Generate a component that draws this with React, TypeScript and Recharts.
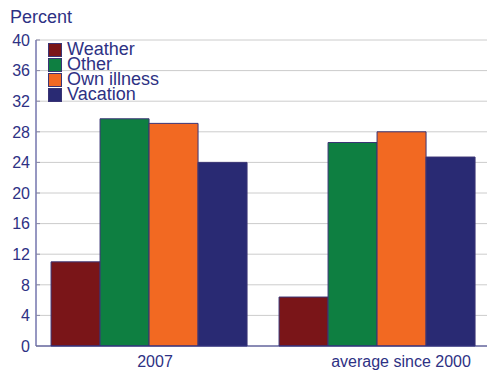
import { BarChart, Bar, XAxis, YAxis, CartesianGrid, Legend } from "recharts";

const categories = ["2007", "average since 2000"];
const weather = [11.0, 6.4];
const other = [29.7, 26.6];
const ownIllness = [29.1, 28.0];
const vacation = [24.0, 24.7];
const yTicks = [0, 4, 8, 12, 16, 20, 24, 28, 32, 36, 40];

const TEXT = "#2e3184";
const FONT = "'Liberation Sans', Arial, Helvetica, sans-serif";
const BAR_STROKE = "#3a3475";

const SERIES = [
  { key: "Weather", values: weather, color: "#7a1518" },
  { key: "Other", values: other, color: "#0e7f41" },
  { key: "Own illness", values: ownIllness, color: "#f26922" },
  { key: "Vacation", values: vacation, color: "#292a73" },
];

const data = categories.map((c, i) => {
  const row: Record<string, string | number> = { name: c };
  SERIES.forEach((s) => (row[s.key] = s.values[i]));
  return row;
});

// the source chart doesn't centre its category labels, nudge them
const labelShift = [5, 23];

function XTick(props: any) {
  const { x, y, payload, index } = props;
  return (
    <text
      x={x + (labelShift[index] ?? 0)}
      y={y}
      dy={13}
      textAnchor="middle"
      fill={TEXT}
      fontSize={16}
      fontFamily={FONT}
    >
      {payload.value}
    </text>
  );
}

function YTick(props: any) {
  const { x, y, payload } = props;
  return (
    <g>
      <line x1={x + 6} x2={x + 10} y1={y} y2={y} stroke="#8a8aa8" strokeWidth={1} />
      <text
        x={x}
        y={y}
        dy="0.36em"
        textAnchor="end"
        fill={TEXT}
        fontSize={16}
        fontFamily={FONT}
      >
        {payload.value}
      </text>
    </g>
  );
}

function LegendBox(props: any) {
  const items = [...(props.payload ?? [])];
  // keep series order, not alphabetical
  const order = SERIES.map((s) => s.key);
  items.sort((a: any, b: any) => order.indexOf(a.value) - order.indexOf(b.value));
  return (
    <div style={{ fontFamily: FONT }}>
      {items.map((it: any) => (
        <div key={it.value} style={{ display: "flex", alignItems: "center", height: 15 }}>
          <span
            style={{
              width: 14,
              height: 14,
              background: it.color,
              border: `1px solid ${BAR_STROKE}`,
              boxSizing: "border-box",
              display: "inline-block",
            }}
          />
          <span style={{ marginLeft: 5, fontSize: 18, lineHeight: "15px", height: 15, color: TEXT }}>
            {it.value}
          </span>
        </div>
      ))}
    </div>
  );
}

export default function App() {
  return (
    <div style={{ position: "relative", width: 487, height: 371, overflow: "hidden", background: "#fff" }}>
      <style>{"body{margin:0}"}</style>
      <div
        style={{
          position: "absolute",
          left: 10,
          top: 8,
          fontSize: 18,
          lineHeight: "18px",
          color: TEXT,
          fontFamily: FONT,
        }}
      >
        Percent
      </div>
      <BarChart
        width={500}
        height={371}
        data={data}
        margin={{ top: 40, right: 8, bottom: 0, left: 0 }}
        barCategoryGap="6.6%"
        barGap={0}
      >
        <CartesianGrid vertical={false} stroke="#cccccc" />
        <XAxis
          dataKey="name"
          height={25}
          tickLine={false}
          axisLine={{ stroke: TEXT }}
          tick={<XTick />}
          interval={0}
        />
        <YAxis
          width={36}
          domain={[0, 40]}
          ticks={yTicks}
          tickLine={false}
          tickSize={4}
          tickMargin={2}
          axisLine={{ stroke: TEXT }}
          tick={<YTick />}
          interval={0}
        />
        <Legend
          layout="vertical"
          align="center"
          verticalAlign="middle"
          wrapperStyle={{ top: 42, left: 48, width: "auto" }}
          content={<LegendBox />}
        />
        {SERIES.map((s) => (
          <Bar
            key={s.key}
            dataKey={s.key}
            fill={s.color}
            stroke={BAR_STROKE}
            strokeWidth={1}
            isAnimationActive={false}
          />
        ))}
      </BarChart>
    </div>
  );
}
